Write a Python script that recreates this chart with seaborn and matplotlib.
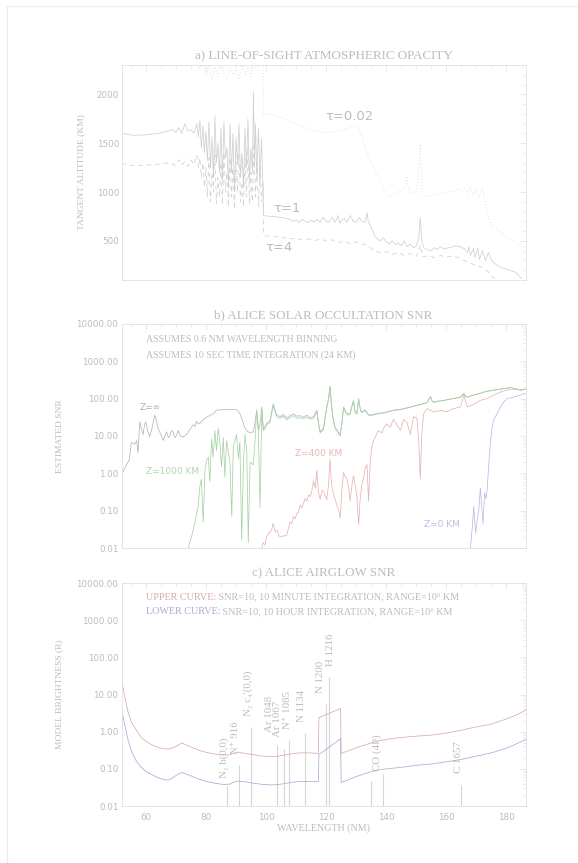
import matplotlib
matplotlib.use('Agg')
import matplotlib.pyplot as plt
import seaborn as sns
from matplotlib.ticker import FixedLocator, MultipleLocator, LogLocator, FormatStrFormatter, NullFormatter
from matplotlib.lines import Line2D

# ---------------- DATA ----------------
# a) line-of-sight opacity: (wavelength nm, tangent altitude km)
tau1 = [
    (52, 1600), (56, 1580), (60, 1585), (64, 1600), (67, 1620), (69, 1640), (70, 1610), (71, 1660), (72, 1600), (73, 1700),
    (74, 1620), (75, 1640), (76, 1600), (77, 1700), (77.5, 1560), (78, 1730), (78.5, 1450), (79, 1680), (79.5, 1400), (80, 1620),
    (80.5, 1320), (81, 1720), (81.5, 1250), (82, 1560), (82.5, 1150), (83, 1780), (83.5, 1300), (84, 1500), (84.5, 1200), (85, 1650),
    (85.5, 1100), (86, 1720), (86.5, 1350), (87, 1450), (87.5, 1050), (88, 1700), (88.5, 1200), (89, 1600), (89.5, 1000), (90, 1560),
    (90.5, 1280), (91, 1700), (91.5, 1150), (92, 1400), (92.5, 1050), (93, 1650), (93.5, 1250), (94, 1750), (94.5, 1100), (95, 1450),
    (95.5, 1200), (95.8, 2030), (96.2, 1250), (96.5, 1700), (97, 1150), (97.5, 1650), (98, 1100), (98.5, 1550), (99, 1050), (99.2, 760),
    (100, 755), (102, 750), (104, 745), (106, 735), (108, 720), (109, 700), (110, 715), (111, 690), (112, 720), (113, 700),
    (114, 690), (115, 710), (116, 695), (117, 720), (118, 690), (119, 740), (120, 700), (121, 690), (122, 740), (123, 690),
    (124, 760), (124.5, 680), (125, 700), (126, 730), (127, 690), (128, 760), (129, 700), (130, 690), (131, 740), (132, 700),
    (133, 690), (133.6, 790), (134, 700), (135, 640), (136, 560), (137, 520), (138, 500), (139, 530), (140, 490), (141, 470),
    (142, 500), (143, 460), (144, 480), (145, 450), (146, 500), (147, 440), (148, 470), (149, 430), (150, 450), (150.8, 520),
    (151.3, 740), (151.8, 500), (152.5, 430), (153.5, 410), (155, 400), (156, 430), (157, 410), (158, 440), (159, 420), (161, 430),
    (163, 450), (164.5, 440), (166, 420), (167, 380), (167.5, 440), (168, 350), (169, 420), (169.5, 330), (170.5, 430), (171, 310),
    (172, 400), (173, 300), (174, 380), (175, 300), (176, 270), (177, 250), (178, 230), (179, 220), (180, 210), (181, 200),
    (182, 190), (183, 180), (184, 150), (185, 115)]

tau4 = [
    (52, 1290), (56, 1270), (60, 1275), (64, 1285), (68, 1300), (70, 1270), (71, 1330), (72, 1280), (73, 1310), (74, 1260),
    (75, 1330), (76, 1280), (77, 1380), (77.5, 1250), (78, 1350), (78.5, 1150), (79, 1300), (79.5, 1050), (80, 1250), (80.5, 950),
    (81, 1350), (81.5, 900), (82, 1200), (82.5, 1000), (83, 1450), (83.5, 880), (84, 1150), (84.5, 950), (85, 1300), (85.5, 870),
    (86, 1400), (86.5, 1000), (87, 1200), (87.5, 850), (88, 1350), (88.5, 950), (89, 1250), (89.5, 820), (90, 1300), (90.5, 1000),
    (91, 1400), (91.5, 900), (92, 1100), (92.5, 850), (93, 1350), (93.5, 950), (94, 1450), (94.5, 880), (95, 1200), (95.5, 900),
    (96, 1500), (96.5, 950), (97, 1300), (97.5, 850), (98, 1250), (98.5, 900), (99, 1100), (99.2, 560),
    (100, 550), (102, 545), (104, 540), (106, 530), (108, 520), (110, 530), (112, 510), (114, 520), (116, 500), (118, 520),
    (120, 500), (122, 510), (124, 480), (126, 500), (128, 470), (130, 490), (132, 470), (134, 450), (135, 420), (136, 395),
    (138, 380), (140, 390), (142, 360), (144, 380), (146, 350), (148, 370), (150, 340), (151.3, 460), (152, 340), (154, 345),
    (156, 330), (158, 350), (160, 335), (162, 345), (164, 330), (166, 300), (168, 270), (170, 250), (172, 230), (174, 180),
    (175, 140), (176, 110)]

tau002 = [
    (77, 2400), (78, 2250), (79, 2350), (80, 2200), (81, 2300), (82, 2150), (83, 2280), (84, 2180), (85, 2350), (86, 2200),
    (87, 2150), (88, 2300), (89, 2200), (90, 2250), (91, 2150), (92, 2300), (93, 2200), (94, 2280), (95, 2180), (96, 2300),
    (97, 2250), (98, 2320), (99, 2280), (99.2, 1800), (102, 1790), (105, 1760), (108, 1720), (111, 1690), (114, 1650), (117, 1620),
    (120, 1605), (122, 1610), (124, 1630), (126, 1645), (128, 1660), (130, 1690), (131, 1640), (132, 1560), (133, 1450), (134, 1380),
    (135, 1300), (136, 1230), (137, 1160), (138, 1100), (139, 1040), (140, 980), (141, 945), (142, 970), (143, 990), (144, 1010),
    (145, 1000), (146, 1050), (146.8, 1160), (147.5, 1010), (148, 990), (149, 1000), (150, 1010), (150.8, 1200), (151.3, 1490), (151.8, 1150),
    (152, 980), (153, 960), (155, 960), (157, 975), (159, 990), (161, 1000), (163, 1010), (164, 1040), (165, 990), (166, 1050),
    (167, 980), (168, 1060), (169, 960), (170, 1040), (171, 950), (172, 1050), (173, 900), (174, 750), (175, 660), (177, 620),
    (179, 560), (181, 520), (183, 480), (185, 440), (187, 420)]

# b) solar occultation SNR: (wavelength nm, SNR)
snr_inf = [
    (51.9, 0.93), (53.6, 1.7), (54.5, 2.3), (55.2, 6.7), (56.3, 6.0), (57.0, 7.5), (57.4, 3.5), (58.0, 24), (58.6, 15), (59.1, 11),
    (59.6, 20), (60.0, 24), (60.6, 14), (61.3, 9.5), (62.2, 18), (63.0, 36), (63.6, 25), (64.1, 16), (65.0, 11), (65.8, 7.6),
    (66.4, 10), (66.9, 13), (67.5, 9), (68.0, 10), (68.6, 14), (69.1, 13), (69.6, 9), (70.2, 10), (70.8, 14), (71.5, 10),
    (72.4, 9.4), (73.6, 11), (74.7, 15), (75.8, 20), (76.4, 18), (76.9, 25), (77.5, 21), (78.0, 22), (79.1, 27), (80.5, 33),
    (82.4, 39), (83.5, 49), (84.7, 50), (87.0, 52), (90.2, 51), (91.3, 40), (92.2, 25), (93.0, 16), (94.0, 13), (94.7, 12.3),
    (95.8, 13), (96.4, 25), (96.9, 49), (97.4, 14), (98.0, 20), (98.6, 60), (99.1, 15), (99.7, 18), (100.2, 22), (101.3, 25),
    (102.4, 72), (103.0, 50), (103.6, 36), (104.7, 33), (105.8, 38), (106.9, 30), (108.0, 35), (109.1, 39), (110.2, 34), (111.3, 35),
    (112.4, 32), (113.6, 36), (114.7, 31), (115.8, 33), (116.9, 49), (117.5, 22), (118.0, 13), (119.1, 16), (120.2, 60), (120.8, 100),
    (121.3, 215), (121.7, 80), (122.3, 30), (123.0, 17), (124.0, 13), (124.7, 10.5), (125.3, 25), (125.8, 60), (126.5, 45), (127.2, 38),
    (128.0, 40), (128.6, 65), (129.1, 90), (129.6, 45), (130.2, 40), (130.8, 100), (131.4, 50), (131.9, 44), (133.0, 50), (134.0, 38),
    (134.7, 36), (136.9, 40), (139.0, 42), (142.4, 49), (145.0, 52), (148.0, 60), (150.0, 66), (152.0, 72), (153.6, 80), (154.7, 115),
    (155.3, 85), (155.8, 80), (157.0, 85), (159.1, 90), (162.0, 100), (164.7, 110), (165.8, 140), (166.4, 115), (166.9, 110), (169.0, 125),
    (171.3, 140), (173.0, 155), (175.8, 170), (178.0, 180), (181.3, 200), (183.0, 185), (184.7, 170), (186.5, 180)]

snr_1000 = [
    (74.1, 0.01), (75.2, 0.02), (76.3, 0.045), (77.4, 0.13), (78.0, 0.45), (78.5, 0.7), (79.1, 0.05), (79.7, 1.2), (80.2, 2.2), (80.8, 2.7),
    (81.3, 0.6), (81.9, 8.4), (82.4, 2.7), (83.0, 14), (83.5, 4), (84.1, 16), (84.7, 6), (85.2, 1.5), (85.8, 9), (86.3, 0.8),
    (86.9, 7.6), (88.0, 1.9), (88.6, 0.07), (89.1, 5), (90.2, 11), (90.8, 2.5), (91.3, 7), (91.9, 0.016), (92.5, 2), (93.0, 11),
    (93.6, 4), (94.1, 0.014), (94.7, 2), (95.8, 1.7), (96.4, 9), (96.9, 50), (97.4, 20), (98.0, 0.12), (98.6, 55), (99.1, 14),
    (99.7, 16), (100.2, 20), (101.3, 23), (102.4, 65), (103.0, 45), (103.6, 32), (104.7, 30), (105.8, 34), (106.9, 27), (108.0, 31),
    (109.1, 35), (110.2, 30), (111.3, 31), (112.4, 29), (113.6, 32), (114.7, 28), (115.8, 30), (116.9, 44), (117.5, 20), (118.0, 12),
    (119.1, 15), (120.2, 55), (120.8, 95), (121.3, 210), (121.7, 78), (122.3, 28), (123.0, 16), (124.0, 12), (124.7, 10), (125.3, 24),
    (125.8, 58), (126.5, 43), (127.2, 36), (128.0, 38), (128.6, 62), (129.1, 88), (129.6, 43), (130.2, 38), (130.8, 98), (131.4, 48),
    (131.9, 42), (133.0, 48), (134.0, 37), (134.7, 35), (136.9, 39), (139.0, 41), (142.4, 48), (145.0, 51), (148.0, 59), (150.0, 65),
    (152.0, 71), (153.6, 79), (154.7, 112), (155.3, 84), (155.8, 79), (157.0, 84), (159.1, 89), (162.0, 99), (164.7, 108), (165.8, 138),
    (166.4, 114), (166.9, 109), (169.0, 124), (171.3, 139), (173.0, 154), (175.8, 169), (178.0, 179), (181.3, 198), (183.0, 184), (184.7, 170),
    (186.5, 180)]

snr_400 = [
    (98.6, 0.01), (99.1, 0.014), (99.6, 0.012), (100.2, 0.02), (101.0, 0.025), (101.9, 0.031), (102.4, 0.046), (103.0, 0.028), (103.6, 0.03), (104.2, 0.022),
    (104.7, 0.02), (105.8, 0.021), (106.9, 0.022), (107.5, 0.035), (108.0, 0.05), (108.6, 0.045), (109.1, 0.07), (109.7, 0.06), (110.2, 0.085), (110.8, 0.09),
    (111.3, 0.14), (112.0, 0.12), (113.0, 0.21), (113.6, 0.18), (114.1, 0.26), (114.7, 0.24), (115.2, 0.33), (115.8, 0.63), (116.4, 0.4), (116.9, 1.2),
    (117.4, 0.33), (118.0, 0.2), (118.6, 0.35), (119.1, 0.33), (119.7, 0.25), (120.2, 0.2), (120.8, 0.5), (121.3, 2.4), (121.8, 0.5), (122.4, 0.3),
    (123.0, 0.2), (123.6, 0.14), (124.2, 0.1), (124.7, 0.063), (125.3, 0.4), (125.8, 1.05), (126.4, 0.8), (126.9, 0.7), (127.5, 0.4), (128.0, 0.18),
    (128.6, 0.5), (129.1, 0.86), (129.6, 0.5), (130.2, 0.27), (130.5, 0.1), (130.8, 0.042), (131.3, 0.2), (131.9, 0.5), (132.5, 0.8), (133.0, 1.4),
    (133.6, 1.7), (134.1, 0.18), (134.7, 2.2), (135.2, 5), (135.8, 7.6), (136.5, 10), (137.4, 14), (138.5, 12), (139.3, 17), (140.2, 21),
    (141.3, 17), (142.4, 28), (143.5, 20), (144.7, 14), (145.8, 28), (146.9, 23), (148.0, 11), (148.6, 20), (149.1, 33), (150.2, 30),
    (150.8, 8), (151.3, 0.7), (151.8, 10), (152.4, 39), (153.6, 54), (155.8, 44), (158.0, 48), (160.2, 45), (162.4, 54), (164.7, 60),
    (165.8, 125), (166.9, 60), (169.0, 70), (171.3, 90), (173.5, 100), (175.8, 125), (178.0, 150), (180.2, 170), (182.5, 180), (184.7, 170),
    (186.5, 180)]

snr_0 = [
    (168.0, 0.01), (168.6, 0.034), (169.1, 0.13), (169.7, 0.025), (170.3, 0.06), (170.8, 0.11), (171.3, 0.4), (171.9, 0.09), (172.2, 0.045), (172.7, 0.3),
    (173.2, 0.21), (173.6, 0.4), (174.1, 1.75), (174.7, 7.6), (175.2, 16), (175.8, 28), (176.9, 40), (178.6, 73), (180.2, 100), (182.4, 110),
    (184.7, 125), (186.5, 140)]

# c) airglow detection limits: (wavelength nm, brightness R)
upper_curve = [
    (52, 24), (53, 8.7), (54.1, 3.4), (55.2, 1.8), (56.9, 1.1), (58.5, 0.7), (60, 0.56), (62, 0.44), (64, 0.38), (66, 0.35),
    (67.5, 0.34), (69, 0.37), (70.5, 0.42), (72, 0.5), (74, 0.42), (76, 0.36), (78, 0.31), (80, 0.28), (83, 0.25), (86, 0.235),
    (88, 0.24), (89, 0.26), (90, 0.28), (91, 0.28), (93, 0.26), (96, 0.24), (99, 0.22), (102, 0.215), (104, 0.22), (106, 0.235),
    (108, 0.25), (110, 0.265), (112, 0.27), (114, 0.27), (117.4, 0.26), (117.6, 2.4), (124.8, 4.2), (125.0, 0.26), (130, 0.37), (135, 0.5),
    (137, 0.56), (140, 0.62), (145, 0.7), (150, 0.76), (155, 0.81), (160, 0.92), (165, 1.1), (170, 1.35), (175, 1.6), (180, 2.2),
    (184, 3.0), (187, 4.0)]

lower_curve = [
    (52, 3.8), (53, 1.5), (54.1, 0.6), (55.2, 0.3), (56.9, 0.16), (58.5, 0.11), (60, 0.086), (62, 0.07), (64, 0.058), (66, 0.052),
    (67.5, 0.05), (69, 0.058), (70.5, 0.07), (72, 0.08), (74, 0.07), (76, 0.06), (78, 0.052), (80, 0.046), (83, 0.041), (86, 0.038),
    (88, 0.039), (89, 0.043), (90, 0.046), (91, 0.047), (93, 0.045), (96, 0.041), (99, 0.038), (102, 0.037), (104, 0.038), (106, 0.04),
    (108, 0.043), (110, 0.045), (112, 0.046), (114, 0.046), (117.4, 0.045), (117.6, 0.24), (124.8, 0.65), (125.0, 0.043), (130, 0.062), (135, 0.085),
    (137, 0.093), (140, 0.1), (145, 0.11), (150, 0.125), (155, 0.135), (160, 0.155), (165, 0.18), (170, 0.22), (175, 0.27), (180, 0.36),
    (184, 0.5), (187, 0.65)]

line_wl = [86.9, 91.0, 94.9, 103.8, 105.9, 107.8, 112.9, 119.9, 120.9, 134.8, 138.8, 164.7]
line_peak = [0.035, 0.13, 1.3, 0.43, 0.35, 0.6, 0.95, 5.7, 30, 0.046, 0.075, 0.037]

line_names = ['N\u2082 b(0,0)', 'N\u207a 916', 'N\u2082 c\u2084\'(0,0)', 'Ar 1048', 'Ar 1067', 'N\u207a 1085',
              'N 1134', 'N 1200', 'H 1216', 'CO (4P)', 'C 1657']
name_x = [86.0, 89.9, 94.1, 101.0, 103.8, 107.1, 111.9, 118.0, 121.3, 136.9, 163.9]
name_y = [0.056, 0.245, 2.6, 0.96, 0.70, 1.18, 1.8, 10.7, 58, 0.089, 0.077]

# ---------------- STYLE ----------------
sns.set_style('white')
plt.rcParams['font.family'] = ['DejaVu Sans']
SERIF = ['Liberation Serif', 'DejaVu Serif']
TXT = '#bcbcbc'
FRAME = '#e0e0e0'
LINE = '#d0d0d0'

fig = plt.figure(figsize=(5.78, 8.63), dpi=100)
ax_a = fig.add_axes([0.2106, 0.6756, 0.6995, 0.2491])
ax_b = fig.add_axes([0.2106, 0.3650, 0.6995, 0.2596])
ax_c = fig.add_axes([0.2106, 0.0660, 0.6995, 0.2584])

# faint page frame
fig.add_artist(Line2D([6.5 / 578, 1.0], [1 - 6 / 863] * 2, color='#ececec', lw=0.8))
fig.add_artist(Line2D([6.5 / 578] * 2, [0.0, 1 - 6 / 863], color='#ececec', lw=0.8))


def draw(ax, pts, color, ls='-', lw=0.55):
    xs = [p[0] for p in pts]
    ys = [p[1] for p in pts]
    sns.lineplot(x=xs, y=ys, ax=ax, color=color, lw=lw, linestyle=ls,
                 estimator=None, sort=False)


def style(ax):
    for s in ax.spines.values():
        s.set_color(FRAME)
        s.set_linewidth(0.6)
    ax.tick_params(which='both', direction='in', top=True, right=True,
                   color=FRAME, labelcolor=TXT, labelsize=6.3, width=0.5)
    ax.tick_params(which='major', length=4.5)
    ax.tick_params(which='minor', length=2.5)
    ax.tick_params(axis='y', pad=2.5)
    ax.tick_params(axis='x', pad=5)
    ax.set_xlim(52, 186.5)
    ax.xaxis.set_major_locator(MultipleLocator(20))
    ax.xaxis.set_minor_locator(MultipleLocator(5))


def log_axis(ax):
    ax.set_yscale('log')
    ax.set_ylim(0.01, 10000)
    ax.yaxis.set_major_locator(FixedLocator([0.01, 0.1, 1, 10, 100, 1000, 10000]))
    ax.yaxis.set_major_formatter(FormatStrFormatter('%.2f'))
    ax.yaxis.set_minor_locator(LogLocator(base=10, subs=range(2, 10), numticks=20))
    ax.yaxis.set_minor_formatter(NullFormatter())


# ---------------- a) ----------------
draw(ax_a, tau002, LINE, ls=(0, (1, 3)))
draw(ax_a, tau1, LINE)
draw(ax_a, tau4, LINE, ls=(0, (6, 5)))
style(ax_a)
ax_a.set_ylim(100, 2300)
ax_a.yaxis.set_major_locator(FixedLocator([500, 1000, 1500, 2000]))
ax_a.yaxis.set_minor_locator(MultipleLocator(100))
ax_a.tick_params(axis='y', pad=1.8)
ax_a.set_xticklabels([])
ax_a.set_xlabel('')
ax_a.set_ylabel('TANGENT ALTITUDE (KM)', family=SERIF, fontsize=6.8, color=TXT)
ax_a.yaxis.set_label_coords(-0.091, 0.5)
ax_a.text(119.7, 1772, '\u03c4=0.02', fontsize=9.5, color=TXT, va='center')
ax_a.text(102.4, 833, '\u03c4=1', fontsize=9.5, color=TXT, va='center')
ax_a.text(99.7, 436, '\u03c4=4', fontsize=9.5, color=TXT, va='center')

# ---------------- b) ----------------
draw(ax_b, snr_inf, '#b6b6b6')
draw(ax_b, snr_1000, '#a6d3a6')
draw(ax_b, snr_400, '#e6b3b3')
draw(ax_b, snr_0, '#babae8')
style(ax_b)
log_axis(ax_b)
ax_b.set_xticklabels([])
ax_b.set_xlabel('')
ax_b.set_ylabel('ESTIMATED SNR', family=SERIF, fontsize=6.8, color=TXT)
ax_b.yaxis.set_label_coords(-0.143, 0.5)
ax_b.text(60, 3760, 'ASSUMES 0.6 NM WAVELENGTH BINNING', family=SERIF, fontsize=7.1, color=TXT, va='center')
ax_b.text(60, 1440, 'ASSUMES 10 SEC TIME INTEGRATION (24 KM)', family=SERIF, fontsize=7.1, color=TXT, va='center')
ax_b.text(58, 58, 'Z=\u221e', fontsize=6.5, color='#b0b0b0', va='center')
ax_b.text(60, 1.1, 'Z=1000 KM', fontsize=6.5, color='#acd8ac', va='center')
ax_b.text(109.7, 3.3, 'Z=400 KM', fontsize=6.5, color='#e8b6b6', va='center')
ax_b.text(152.4, 0.043, 'Z=0 KM', fontsize=6.5, color='#bcbce8', va='center')

# ---------------- c) ----------------
ax_c.vlines(line_wl, 0.01, line_peak, color='#d6d6d6', lw=0.8)
draw(ax_c, upper_curve, '#d6abab')
draw(ax_c, lower_curve, '#ababd6')
style(ax_c)
log_axis(ax_c)
ax_c.set_xlabel('WAVELENGTH (NM)', family=SERIF, fontsize=7.2, color=TXT)
ax_c.xaxis.set_label_coords(0.5, -0.099)
ax_c.xaxis.label.set_va('center')
ax_c.set_ylabel('MODEL BRIGHTNESS (R)', family=SERIF, fontsize=6.8, color=TXT)
ax_c.yaxis.set_label_coords(-0.144, 0.5)
for name, nx, ny in zip(line_names, name_x, name_y):
    ax_c.text(nx, ny, name, rotation=90, family=SERIF, fontsize=7.8, color=TXT,
              ha='center', va='bottom')
t_up = ax_c.text(60, 4150, 'UPPER CURVE:', family=SERIF, fontsize=7.3, color='#d6abab', va='center')
ax_c.annotate(' SNR=10, 10 MINUTE INTEGRATION, RANGE=10\u2076 KM', xy=(1, 0.5), xycoords=t_up,
              family=SERIF, fontsize=7.3, color=TXT, va='center')
t_lo = ax_c.text(60, 1670, 'LOWER CURVE:', family=SERIF, fontsize=7.3, color='#ababd6', va='center')
ax_c.annotate(' SNR=10, 10 HOUR INTEGRATION, RANGE=10\u2076 KM', xy=(1, 0.5), xycoords=t_lo,
              family=SERIF, fontsize=7.3, color=TXT, va='center')

# panel titles
fig.text(0.560, 1 - 56 / 863, 'a) LINE-OF-SIGHT ATMOSPHERIC OPACITY', family=SERIF, fontsize=9.4,
         color=TXT, ha='center', va='center')
fig.text(0.560, 1 - 315 / 863, 'b) ALICE SOLAR OCCULTATION SNR', family=SERIF, fontsize=9.4,
         color=TXT, ha='center', va='center')
fig.text(0.560, 1 - 573 / 863, 'c) ALICE AIRGLOW SNR', family=SERIF, fontsize=9.4,
         color=TXT, ha='center', va='center')

fig.savefig('out.png', dpi=100, facecolor='white')
